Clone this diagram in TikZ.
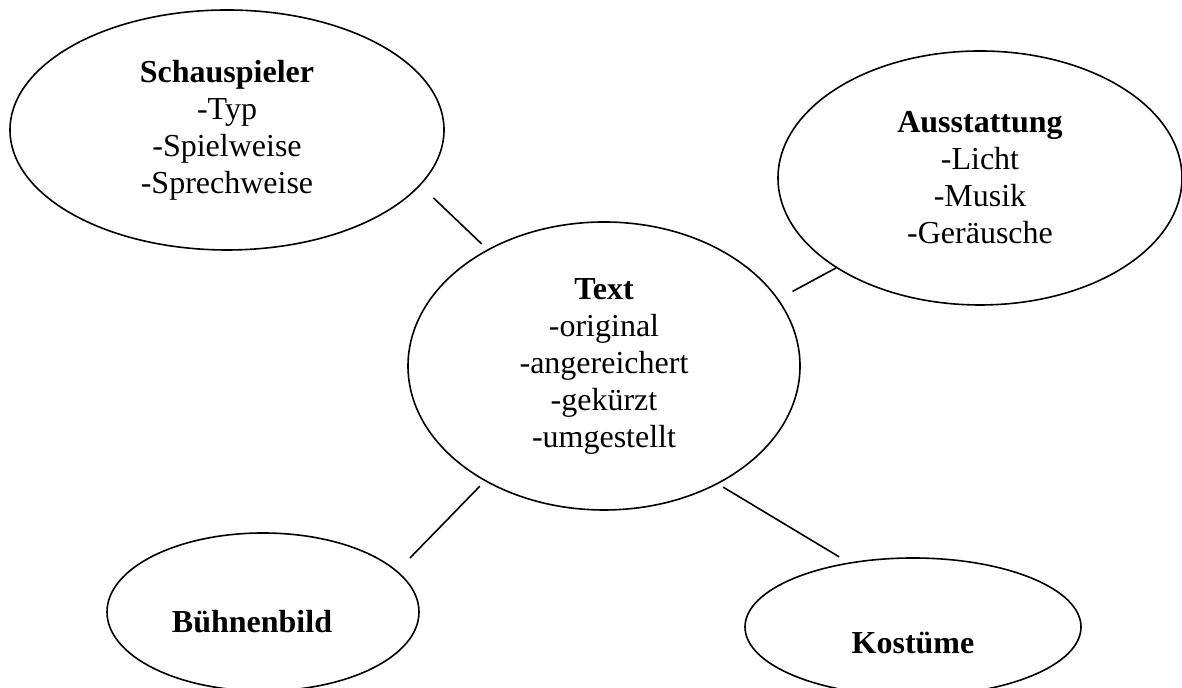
\documentclass[tikz,border=0pt]{standalone}
\usepackage{fontspec}
\setmainfont{Liberation Serif}
\usetikzlibrary{shapes.geometric}

\begin{document}
\begin{tikzpicture}[x = 0.5pt, y = 0.5pt]
\tikzstyle{BubbleStyle}=[shape = ellipse,
							draw,
							line width = 0.8pt,
							inner sep = 0pt,
							align = center,
                         					font = \fontsize{16}{18.5}\selectfont]
\tikzstyle{LinkStyle}=[line width = 0.8pt]
\useasboundingbox (0,0) rectangle (1182,688);
\node[BubbleStyle, minimum width = 217pt, minimum height = 120pt] (schau) at (227,558)
	{\textbf{Schauspieler}\\-Typ\\-Spielweise\\-Sprechweise};
\node[BubbleStyle, minimum width = 202pt, minimum height = 127pt] (ausst) at (980,510)
	{\textbf{Ausstattung}\\-Licht\\-Musik\\-Geräusche};
\node[BubbleStyle, minimum width = 196pt, minimum height = 144pt] (text) at (604,322)
	{\textbf{Text}\\-original\\-angereichert\\-gekürzt\\-umgestellt};
\node[BubbleStyle, minimum width = 156pt, minimum height = 79pt,
	label = {[font = \fontsize{16}{18.5}\selectfont\bfseries, xshift = -5.5pt, yshift = -5pt]center:Bühnenbild}] (buehne) at (263,76) {};
\node[BubbleStyle, minimum width = 168pt, minimum height = 69pt,
	label = {[font = \fontsize{16}{18.5}\selectfont\bfseries, yshift = -8pt]center:Kostüme}] (kost) at (913,61) {};
\draw[LinkStyle, shorten < = 9pt, shorten > = 4pt] (schau.-16) -- (text.135);
\draw[LinkStyle, shorten > = 8pt] (ausst.212) -- (text.21);
\draw[LinkStyle, shorten < = 3.5pt, shorten > = 9pt] (text.224) -- (buehne.17);
\draw[LinkStyle, shorten < = 3pt, shorten > = 5.5pt] (text.-46) -- (kost.135);
\end{tikzpicture}
\end{document}
